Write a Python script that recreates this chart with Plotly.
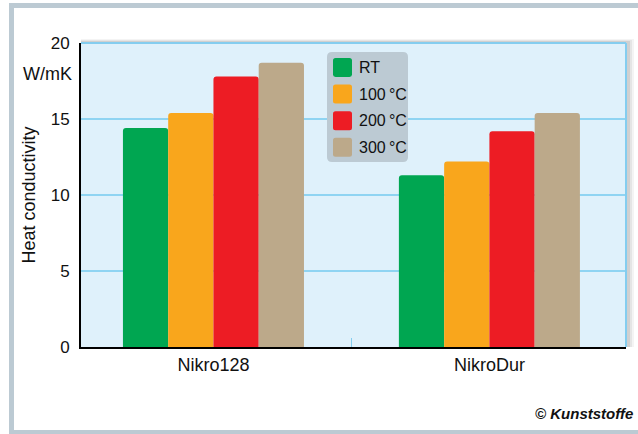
import plotly.graph_objects as go

categories = ["Nikro128", "NikroDur"]
series_names = ["RT", "100\u2009°C", "200\u2009°C", "300\u2009°C"]
series_colors = ["#00a651", "#f9a61c", "#ed1c24", "#bca98a"]
values_rt = [14.4, 11.3]
values_100 = [15.4, 12.2]
values_200 = [17.8, 14.2]
values_300 = [18.7, 15.4]
series_values = [values_rt, values_100, values_200, values_300]
y_ticks = [0, 5, 10, 15, 20]

FONT = "Liberation Sans, Arial, sans-serif"
W_PX, H_PX = 638, 434
L, R, T, B = 81, 626, 43, 347
PW, PH = R - L, B - T


def fx(px):
    return (px - L) / PW


def fy(py):
    return (B - py) / PH


def rrect_path(x0, y0, x1, y1, r):
    pts = [
        ("M", [(x0 + r, y0)]),
        ("L", [(x1 - r, y0)]),
        ("Q", [(x1, y0), (x1, y0 + r)]),
        ("L", [(x1, y1 - r)]),
        ("Q", [(x1, y1), (x1 - r, y1)]),
        ("L", [(x0 + r, y1)]),
        ("Q", [(x0, y1), (x0, y1 - r)]),
        ("L", [(x0, y0 + r)]),
        ("Q", [(x0, y0), (x0 + r, y0)]),
    ]
    s = ""
    for cmd, ps in pts:
        s += cmd + " " + " ".join(f"{fx(a):.5f},{fy(b):.5f}" for a, b in ps) + " "
    return s + "Z"


fig = go.Figure()
for name, color, vals in zip(series_names, series_colors, series_values):
    fig.add_trace(go.Bar(
        x=categories, y=vals, name=name,
        marker=dict(color=color, line=dict(width=0)),
        showlegend=False, hoverinfo="skip",
    ))

shapes = []
# outer frame bands
frame_col = "#bccad3"
for (x0, y0, x1, y1) in [(9, 3, 14, 434), (9, 3, 638, 8), (9, 430, 638, 434)]:
    shapes.append(dict(type="rect", xref="paper", yref="paper",
                       x0=fx(x0), x1=fx(x1), y0=fy(y0), y1=fy(y1),
                       fillcolor=frame_col, line=dict(width=0), layer="below"))
# plot shadow
for i, op in enumerate([0.06, 0.08, 0.12]):
    d = 3 - i
    shapes.append(dict(type="rect", xref="paper", yref="paper",
                       x0=fx(L), x1=fx(R + 2 + d * 2), y0=fy(B), y1=fy(T - 1 - d),
                       fillcolor=f"rgba(60,60,60,{op})", line=dict(width=0), layer="below"))
# plot background
shapes.append(dict(type="rect", xref="paper", yref="paper", x0=0, x1=1, y0=0, y1=1,
                   fillcolor="#dff1fb", line=dict(width=0), layer="below"))
# top and right border
shapes.append(dict(type="line", xref="paper", yref="paper", x0=0, x1=1, y0=1, y1=1,
                   line=dict(color="#84cdef", width=2)))
shapes.append(dict(type="line", xref="paper", yref="paper", x0=1, x1=1, y0=0, y1=1,
                   line=dict(color="#84cdef", width=2)))

# legend box
shapes.append(dict(type="path", xref="paper", yref="paper",
                   path=rrect_path(327, 52, 408, 162, 5),
                   fillcolor="#bccad3", line=dict(width=0)))
annotations = []
row0, step = 58, 26.6
for i, (name, color) in enumerate(zip(series_names, series_colors)):
    y0 = row0 + i * step
    shapes.append(dict(type="path", xref="paper", yref="paper",
                       path=rrect_path(333, y0, 352, y0 + 19, 2.5),
                       fillcolor=color, line=dict(width=0)))
    annotations.append(dict(xref="paper", yref="paper", x=fx(357), y=fy(y0 + 9.5),
                            text=name, showarrow=False, xanchor="left", yanchor="middle",
                            font=dict(family=FONT, size=16, color="#111")))

annotations.append(dict(xref="paper", yref="paper", x=fx(74), y=fy(74),
                        text="W/mK", showarrow=False, xanchor="right", yanchor="middle",
                        font=dict(family=FONT, size=18, color="#111")))
annotations.append(dict(xref="paper", yref="paper", x=fx(635), y=fy(413),
                        text="<b><i>© Kunststoffe</i></b>", showarrow=False,
                        xanchor="right", yanchor="middle",
                        font=dict(family=FONT, size=15, color="#111")))

fig.update_layout(
    width=W_PX, height=H_PX,
    margin=dict(l=L, r=W_PX - R, t=T, b=H_PX - B, pad=0),
    paper_bgcolor="white", plot_bgcolor="rgba(0,0,0,0)",
    barmode="group", bargap=0.344, bargroupgap=0, barcornerradius=3,
    font=dict(family=FONT, size=17, color="#111"),
    shapes=shapes, annotations=annotations, showlegend=False,
)
fig.update_xaxes(
    range=[-0.48, 1.495],
    showline=True, linecolor="black", linewidth=2, showgrid=False,
    ticks="inside", tickson="boundaries", ticklen=9, tickcolor="#84cdef", tickwidth=1,
    tickfont=dict(family=FONT, size=18, color="#111"),
)
fig.update_yaxes(
    range=[0, 20], tickvals=y_ticks, ticktext=[str(v) for v in y_ticks],
    showline=True, linecolor="black", linewidth=2,
    showgrid=True, gridcolor="#8fd4f2", gridwidth=1.5, zeroline=False,
    ticks="", ticklabelstandoff=6,
    tickfont=dict(family=FONT, size=17, color="#111"),
    title=dict(text="Heat conductivity", font=dict(family=FONT, size=18, color="#111"), standoff=10),
)

fig.write_html("out.html", config={"displayModeBar": False},
               post_script="document.body.style.margin='0';document.body.style.overflow='hidden';")
